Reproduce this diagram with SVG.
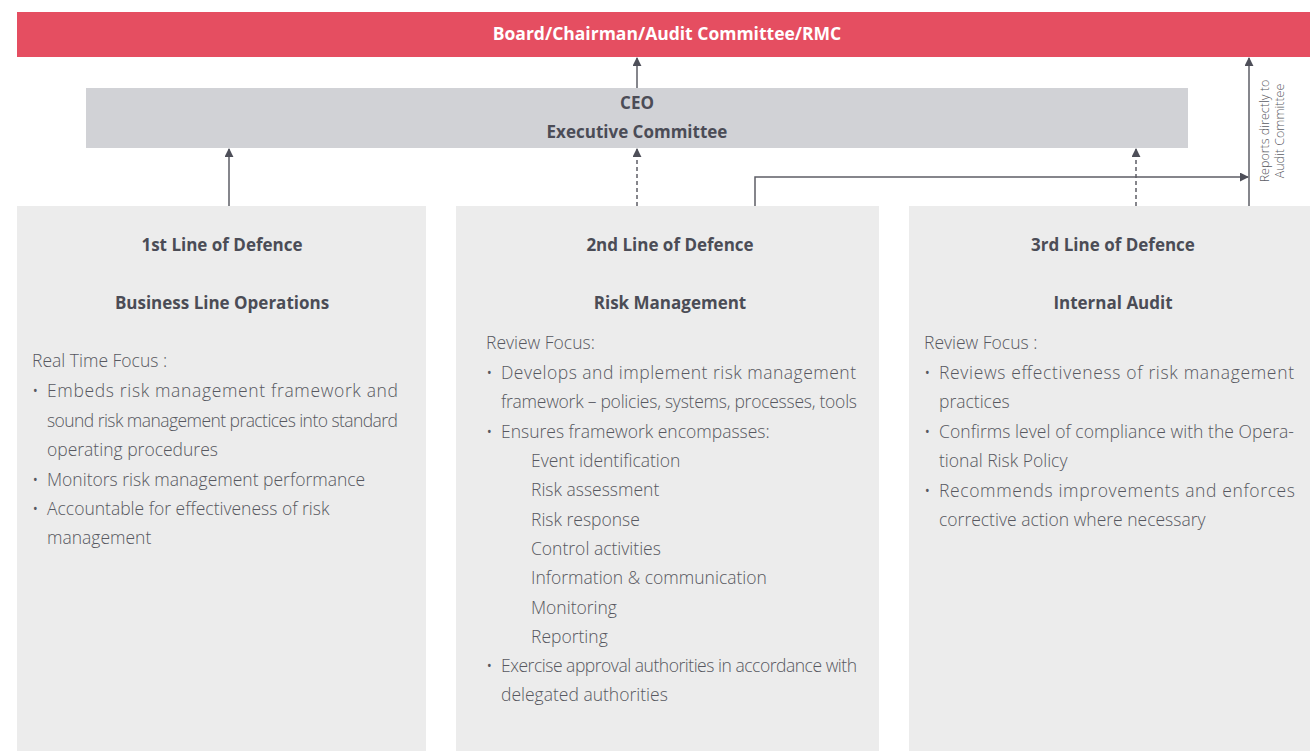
<svg xmlns="http://www.w3.org/2000/svg" width="1310" height="751" viewBox="0 0 1310 751">
  <style>
    .head { font-family: "Open Sans", "Liberation Sans", sans-serif; font-weight: 700; font-size: 17px; fill: #4b4c56; text-anchor: middle; }
    .body { font-family: "Open Sans", "Liberation Sans", sans-serif; font-weight: 300; font-size: 17.5px; fill: #575860; }
    .side { font-family: "Open Sans", "Liberation Sans", sans-serif; font-weight: 300; font-size: 12.5px; fill: #5b5c64; text-anchor: middle; }
    .panel { fill: #ececec; }
    .link { fill: none; stroke: #5d5e66; stroke-width: 1.5; }
    .dash { stroke-dasharray: 4 3; }
  </style>
  <defs>
    <marker id="arrow" viewBox="0 0 10 10" refX="9" refY="5" markerWidth="9" markerHeight="9" markerUnits="userSpaceOnUse" orient="auto">
      <path d="M0,0 L10,5 L0,10 z" fill="#4e4f59"/>
    </marker>
  </defs>
  <rect width="1310" height="751" fill="#ffffff"/>

  <g id="board">
    <rect x="17" y="12" width="1293" height="45" fill="#e54e61"/>
    <text x="667" y="40" font-family="Open Sans, Liberation Sans, sans-serif" font-weight="700" font-size="17.5" fill="#ffffff" text-anchor="middle">Board/Chairman/Audit Committee/RMC</text>
  </g>

  <g id="ceo">
    <rect x="86" y="88" width="1102" height="60" fill="#d1d2d6"/>
    <text class="head" x="637" y="109">CEO</text>
    <text class="head" x="637" y="138">Executive Committee</text>
  </g>

  <g id="connectors">
    <line class="link" x1="637" y1="88" x2="637" y2="58" marker-end="url(#arrow)"/>
    <line class="link" x1="229" y1="206" x2="229" y2="149" marker-end="url(#arrow)"/>
    <line class="link dash" x1="637" y1="206" x2="637" y2="149" marker-end="url(#arrow)"/>
    <line class="link dash" x1="1136" y1="206" x2="1136" y2="149" marker-end="url(#arrow)"/>
    <polyline class="link" points="755,206 755,177 1248,177" marker-end="url(#arrow)"/>
    <line class="link" x1="1249" y1="206" x2="1249" y2="58" marker-end="url(#arrow)"/>
    <g transform="translate(1269,131) rotate(-90)">
      <text class="side" x="0" y="0">Reports directly to</text>
      <text class="side" x="0" y="15">Audit Committee</text>
    </g>
  </g>

  <g id="line1">
    <rect class="panel" x="17" y="206" width="409" height="545"/>
    <text class="head" x="222" y="251">1st Line of Defence</text>
    <text class="head" x="222" y="309">Business Line Operations</text>
    <text class="body" x="32" y="367">Real Time Focus :</text>
    <text class="body" x="32" y="397">•</text>
    <text class="body" x="47" y="397" textLength="351" lengthAdjust="spacing">Embeds risk management framework and</text>
    <text class="body" x="47" y="427" textLength="351" lengthAdjust="spacing">sound risk management practices into standard</text>
    <text class="body" x="47" y="456">operating procedures</text>
    <text class="body" x="32" y="486">•</text>
    <text class="body" x="47" y="486">Monitors risk management performance</text>
    <text class="body" x="32" y="515">•</text>
    <text class="body" x="47" y="515">Accountable for effectiveness of risk</text>
    <text class="body" x="47" y="544">management</text>
  </g>

  <g id="line2">
    <rect class="panel" x="456" y="206" width="423" height="545"/>
    <text class="head" x="670" y="251">2nd Line of Defence</text>
    <text class="head" x="670" y="309">Risk Management</text>
    <text class="body" x="486" y="349">Review Focus:</text>
    <text class="body" x="486" y="379">•</text>
    <text class="body" x="501" y="379" textLength="355" lengthAdjust="spacing">Develops and implement risk management</text>
    <text class="body" x="501" y="408" textLength="356" lengthAdjust="spacing">framework – policies, systems, processes, tools</text>
    <text class="body" x="486" y="438">•</text>
    <text class="body" x="501" y="438">Ensures framework encompasses:</text>
    <text class="body" x="531" y="467">Event identification</text>
    <text class="body" x="531" y="496">Risk assessment</text>
    <text class="body" x="531" y="526">Risk response</text>
    <text class="body" x="531" y="555">Control activities</text>
    <text class="body" x="531" y="584">Information &amp; communication</text>
    <text class="body" x="531" y="614">Monitoring</text>
    <text class="body" x="531" y="643">Reporting</text>
    <text class="body" x="486" y="672">•</text>
    <text class="body" x="501" y="672" textLength="356" lengthAdjust="spacing">Exercise approval authorities in accordance with</text>
    <text class="body" x="501" y="701">delegated authorities</text>
  </g>

  <g id="line3">
    <rect class="panel" x="909" y="206" width="401" height="545"/>
    <text class="head" x="1113" y="251">3rd Line of Defence</text>
    <text class="head" x="1113" y="309">Internal Audit</text>
    <text class="body" x="924" y="349">Review Focus :</text>
    <text class="body" x="924" y="379">•</text>
    <text class="body" x="939" y="379" textLength="355" lengthAdjust="spacing">Reviews effectiveness of risk management</text>
    <text class="body" x="939" y="408">practices</text>
    <text class="body" x="924" y="438">•</text>
    <text class="body" x="939" y="438" textLength="355" lengthAdjust="spacing">Confirms level of compliance with the Opera-</text>
    <text class="body" x="939" y="467">tional Risk Policy</text>
    <text class="body" x="924" y="497">•</text>
    <text class="body" x="939" y="497" textLength="356" lengthAdjust="spacing">Recommends improvements and enforces</text>
    <text class="body" x="939" y="526">corrective action where necessary</text>
  </g>
</svg>
